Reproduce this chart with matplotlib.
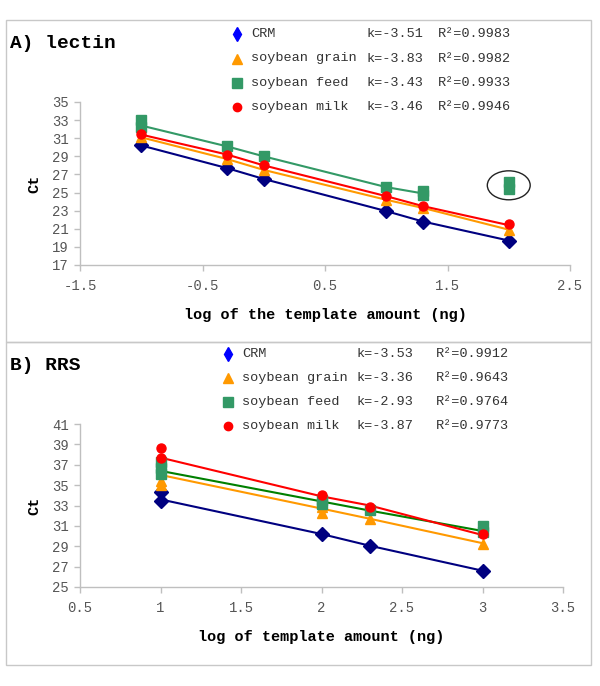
import matplotlib
matplotlib.use("Agg")
import matplotlib.pyplot as plt
from matplotlib.lines import Line2D
from matplotlib.patches import Ellipse, Rectangle


plt.rcParams["font.family"] = ["Liberation Mono", "DejaVu Sans Mono"]

# ---- data ----
SERIES = ["CRM", "soybean grain", "soybean feed", "soybean milk"]

# A) lectin, log of template amount (ng)
lectin_x = [-1, -0.3, 0, 1, 1.3, 2]
lectin_crm = [30.2, 27.7, 26.5, 22.95, 21.8, 19.7]
lectin_grain = [31.1, 28.7, 27.5, 24.2, 23.3, 20.9]
lectin_feed_x = [-1, -1, -0.3, 0, 1, 1.3, 1.3]
lectin_feed = [33.0, 32.2, 30.1, 29.0, 25.6, 25.2, 24.7]
lectin_feed_outlier_x = [2, 2]
lectin_feed_outlier = [26.2, 25.4]
lectin_milk = [31.5, 29.2, 28.05, 24.6, 23.5, 21.5]

# trend lines drawn in panel A
lectin_line_crm = [30.2, 27.7, 26.5, 22.95, 21.8, 19.7]
lectin_line_grain = [31.1, 28.7, 27.5, 24.2, 23.3, 20.9]
lectin_line_feed_x = [-1, -0.3, 0, 1, 1.3]
lectin_line_feed = [32.4, 30.1, 29.0, 25.6, 24.9]
lectin_line_milk = [31.4, 29.2, 28.0, 24.6, 23.5, 21.4]

lectin_k = ["k=-3.51", "k=-3.83", "k=-3.43", "k=-3.46"]
lectin_r2 = ["R²=0.9983", "R²=0.9982", "R²=0.9933", "R²=0.9946"]

# B) RRS
rrs_crm_x = [1, 1, 2, 2.3, 3]
rrs_crm = [34.35, 33.45, 30.2, 29.05, 26.6]
rrs_grain_x = [1, 1, 1, 2, 2, 2.3, 3]
rrs_grain = [36.2, 35.4, 35.0, 32.9, 32.3, 31.7, 29.2]
rrs_feed_x = [1, 1, 1, 2, 2, 2.3, 3, 3]
rrs_feed = [37.3, 36.7, 36.1, 33.5, 33.1, 32.6, 31.0, 30.4]
rrs_milk_x = [1, 1, 2, 2.3, 3]
rrs_milk = [38.6, 37.7, 34.0, 32.85, 30.2]

# trend lines drawn in panel B
rrs_line_x = [1, 2, 2.3, 3]
rrs_line_crm = [33.6, 30.2, 29.05, 26.6]
rrs_line_grain = [36.0, 32.7, 31.7, 29.3]
rrs_line_feed = [36.4, 33.4, 32.5, 30.5]
rrs_line_milk = [37.7, 33.9, 33.0, 30.1]

rrs_k = ["k=-3.53", "k=-3.36", "k=-2.93", "k=-3.87"]
rrs_r2 = ["R²=0.9912", "R²=0.9643", "R²=0.9764", "R²=0.9773"]

# ---- styles ----
MARKERS = ["D", "^", "s", "o"]
MARKER_COLORS = ["#000080", "#FF9900", "#339966", "#FF0000"]
LEGEND_COLORS = ["#0000FF", "#FF9900", "#339966", "#FF0000"]
MARKER_SIZES = [7, 7.5, 7, 6.5]
LEGEND_SIZES = [7, 7, 7, 6]
LINE_COLORS_A = ["#000080", "#FF9900", "#339966", "#FF0000"]
LINE_COLORS_B = ["#000080", "#FF9900", "#008000", "#FF0000"]
TICK_COLOR = "#555555"
SPINE_COLOR = "#bfbfbf"

fig = plt.figure(figsize=(6.0, 6.86), dpi=100)

# overlays in pixel coordinates for frames, titles and legends
ov = fig.add_axes([0, 0, 1, 1], zorder=-1)
ov.set_xlim(0, 600)
ov.set_ylim(686, 0)
ov.axis("off")

ov2 = fig.add_axes([0, 0, 1, 1], zorder=5)
ov2.set_xlim(0, 600)
ov2.set_ylim(686, 0)
ov2.axis("off")

for top, bottom in [(20, 342), (342, 665)]:
    ov.add_patch(Rectangle((6, top), 585, bottom - top, fill=False,
                           edgecolor="#c8c8c8", linewidth=1.0))

ov2.text(10, 43, "A) lectin", fontsize=14, fontweight="bold",
         va="center", ha="left", color="black")
ov2.text(10, 365, "B) RRS", fontsize=14, fontweight="bold",
         va="center", ha="left", color="black")


def draw_legend(rows_y, x_marker, x_name, x_k, x_r2, k_labels, r2_labels):
    for i, name in enumerate(SERIES):
        y = rows_y[i]
        marker = MARKERS[i] if i != 0 else "d"
        ov2.add_line(Line2D([x_marker], [y], marker=marker, linestyle="",
                            markersize=LEGEND_SIZES[i],
                            color=LEGEND_COLORS[i],
                            markeredgecolor=LEGEND_COLORS[i]))
        ov2.text(x_name, y, name, fontsize=9.7, color="#333333",
                 va="center", ha="left")
        ov2.text(x_k, y, k_labels[i], fontsize=9.7, color="#333333",
                 va="center", ha="left")
        ov2.text(x_r2, y, r2_labels[i], fontsize=9.7, color="#333333",
                 va="center", ha="left")


def style_axes(ax, xlim, xticks, ylim, yticks, xlabel):
    ax.set_xlim(*xlim)
    ax.set_ylim(*ylim)
    ax.set_xticks(xticks)
    ax.set_yticks(yticks)
    ax.set_xticklabels([f"{t:g}" for t in xticks])
    ax.set_facecolor("none")
    for side in ["top", "right"]:
        ax.spines[side].set_visible(False)
    for side in ["left", "bottom"]:
        ax.spines[side].set_color(SPINE_COLOR)
        ax.spines[side].set_linewidth(1.0)
    ax.tick_params(axis="both", colors=SPINE_COLOR, labelcolor=TICK_COLOR,
                   labelsize=10, length=4, width=1.0, direction="out")
    ax.tick_params(axis="x", pad=6)
    ax.tick_params(axis="y", pad=4)
    ax.set_ylabel("Ct", fontsize=11, fontweight="bold", labelpad=8)
    ax.set_xlabel(xlabel, fontsize=11, fontweight="bold", labelpad=11)


# ---- panel A ----
ax_a = fig.add_axes([80 / 600, 1 - 265 / 686, 490 / 600, 163 / 686])
a_lines = [
    (lectin_x, lectin_line_crm),
    (lectin_x, lectin_line_grain),
    (lectin_line_feed_x, lectin_line_feed),
    (lectin_x, lectin_line_milk),
]
a_points = [
    (lectin_x, lectin_crm),
    (lectin_x, lectin_grain),
    (lectin_feed_x + lectin_feed_outlier_x, lectin_feed + lectin_feed_outlier),
    (lectin_x, lectin_milk),
]
for i, (lx, ly) in enumerate(a_lines):
    ax_a.plot(lx, ly, color=LINE_COLORS_A[i], linewidth=1.5, zorder=2)
for i, (px, py) in enumerate(a_points):
    ax_a.plot(px, py, linestyle="", marker=MARKERS[i], markersize=MARKER_SIZES[i],
              color=MARKER_COLORS[i], markeredgecolor=MARKER_COLORS[i], zorder=3)

ax_a.add_patch(Ellipse((2.0, 25.8), 0.35, 3.2, fill=False,
                       edgecolor="#222222", linewidth=1.0, zorder=4))
style_axes(ax_a, (-1.5, 2.5), [-1.5, -0.5, 0.5, 1.5, 2.5], (17, 35),
           list(range(17, 36, 2)), "log of the template amount (ng)")

draw_legend([34, 58.5, 83, 107], 237, 251, 366, 438, lectin_k, lectin_r2)

# ---- panel B ----
ax_b = fig.add_axes([80 / 600, 1 - 587 / 686, 483 / 600, 163 / 686])
b_lines = [rrs_line_crm, rrs_line_grain, rrs_line_feed, rrs_line_milk]
b_points = [
    (rrs_crm_x, rrs_crm),
    (rrs_grain_x, rrs_grain),
    (rrs_feed_x, rrs_feed),
    (rrs_milk_x, rrs_milk),
]
for i, ly in enumerate(b_lines):
    ax_b.plot(rrs_line_x, ly, color=LINE_COLORS_B[i], linewidth=1.5, zorder=2)
for i, (px, py) in enumerate(b_points):
    ax_b.plot(px, py, linestyle="", marker=MARKERS[i], markersize=MARKER_SIZES[i],
              color=MARKER_COLORS[i], markeredgecolor=MARKER_COLORS[i], zorder=3)

style_axes(ax_b, (0.5, 3.5), [0.5, 1, 1.5, 2, 2.5, 3, 3.5], (25, 41),
           list(range(25, 42, 2)), "log of template amount (ng)")

draw_legend([354, 378, 402, 426], 228, 242, 356, 436, rrs_k, rrs_r2)

fig.savefig("out.png", dpi=100)
